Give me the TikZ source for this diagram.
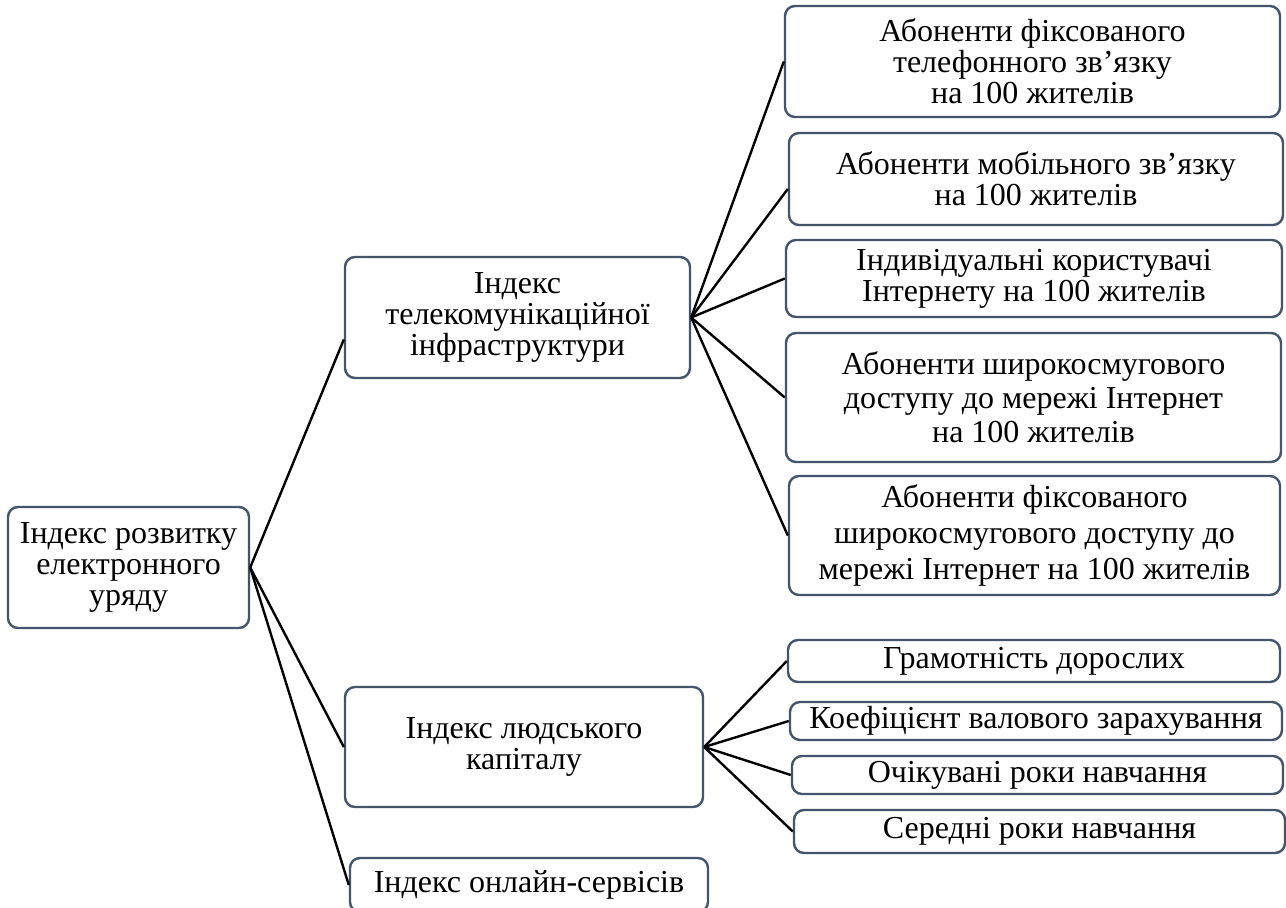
\documentclass[tikz,border=0pt]{standalone}
\usepackage{fontspec}
\setmainfont{Liberation Serif}
\usetikzlibrary{calc}
\definecolor{boxline}{RGB}{68,84,106}
\tikzset{
  box/.style={draw=boxline, line width=2.4pt, rounded corners=10pt, fill=white,
    align=center, inner sep=0pt, font=\fontsize{32}{31}\selectfont},
  link/.style={draw=black, line width=2.4pt}
}
\begin{document}
\begin{tikzpicture}[x=1pt,y=-1pt]
\useasboundingbox[fill=white] (0,0) rectangle (1286,908);
% level 0
\node[box, minimum width=241, minimum height=121] (root) at (128.5,567.5) {Індекс розвитку\\електронного\\уряду};
% level 1
\node[box, minimum width=345, minimum height=121] (tel) at (517.5,317.5) {Індекс\\телекомунікаційної\\інфраструктури};
\node[box, minimum width=358, minimum height=120] (hc) at (524,747) {Індекс людського\\капіталу};
\node[box, minimum width=358, minimum height=54] (onl) at (529,885) {Індекс онлайн-сервісів};
% level 2, telecom
\node[box, minimum width=495, minimum height=111] (t1) at (1032.5,61.5) {Абоненти фіксованого\\телефонного зв’язку\\на 100 жителів};
\node[box, minimum width=494, minimum height=92] (t2) at (1036,179) {Абоненти мобільного зв’язку\\на 100 жителів};
\node[box, minimum width=496, minimum height=77] (t3) at (1034,278.5) {Індивідуальні користувачі\\Інтернету на 100 жителів};
\node[box, minimum width=495, minimum height=129, font=\fontsize{32}{34}\selectfont] (t4) at (1033.5,397.5) {Абоненти широкосмугового\\доступу до мережі Інтернет\\на 100 жителів};
\node[box, minimum width=491, minimum height=119, font=\fontsize{32}{36}\selectfont] (t5) at (1034.5,535.5) {Абоненти фіксованого\\широкосмугового доступу до\\мережі Інтернет на 100 жителів};
% level 2, human capital
\node[box, minimum width=492, minimum height=42] (h1) at (1034,661) {Грамотність дорослих};
\node[box, minimum width=492, minimum height=38] (h2) at (1036,721) {Коефіцієнт валового зарахування};
\node[box, minimum width=491, minimum height=38] (h3) at (1037.5,775) {Очікувані роки навчання};
\node[box, minimum width=491, minimum height=43] (h4) at (1039.5,831.5) {Середні роки навчання};
% connectors
\draw[link] (root.east) -- ($(tel.west)+(0,22)$);
\draw[link] (root.east) -- (hc.west);
\draw[link] (root.east) -- (onl.west);
\draw[link] (tel.east) -- (t1.west);
\draw[link] (tel.east) -- ($(t2.west)+(0,10)$);
\draw[link] (tel.east) -- (t3.west);
\draw[link] (tel.east) -- (t4.west);
\draw[link] (tel.east) -- (t5.west);
\draw[link] (hc.east) -- (h1.west);
\draw[link] (hc.east) -- (h2.west);
\draw[link] (hc.east) -- (h3.west);
\draw[link] (hc.east) -- (h4.west);
\end{tikzpicture}
\end{document}
